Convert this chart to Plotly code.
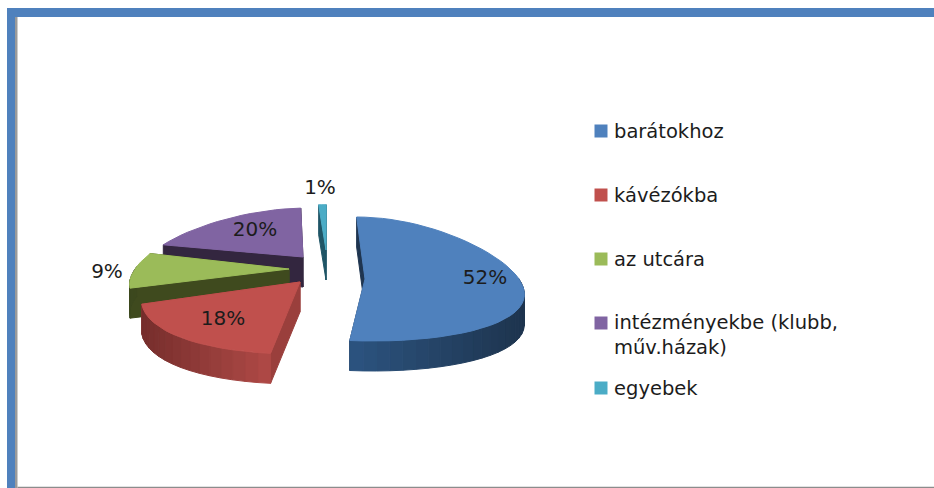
import math
import plotly.graph_objects as go

# ---- data ----
categories = ["barátokhoz", "kávézókba", "az utcára", "intézményekbe (klubb,<br>műv.házak)", "egyebek"]
values = [52, 18, 9, 20, 1]
value_labels = ["52%", "18%", "9%", "20%", "1%"]

# ---- styling / layout ----
top_colors = ["#4F81BD", "#C0504D", "#9BBB59", "#8064A2", "#4BACC6"]
rim_left = [(44, 84, 128), (176, 74, 71), (60, 72, 30), (48, 36, 62), (30, 90, 105)]
rim_right = [(30, 52, 78), (118, 46, 44), (60, 72, 30), (48, 36, 62), (30, 90, 105)]
inner_colors = ["#1F3550", "#9A3F3C", "#3F4A1E", "#33263F", "#1F5566"]
explode_dx = [38, -27, -38, -24, -1]
explode_dy = [10, 13, 0, -12, -19]
slice_scale = [1.0, 1.16, 1.0, 0.79, 0.73]
label_pos = [(485, 279), (223, 320), (107, 273), (255, 231), (320, 189)]
legend_key_x = 601
legend_y = [131, 195, 259, 323, 388]
legend_text_x = 612
text_color = "#1C1C1C"
FONT = "DejaVu Sans"

PIVOT_X, PIVOT_Y = 327, 269
RX, RY = 154, 62
DEPTH = 30
PERSP = 0.22
START_DEG = 0


def project(i, theta_deg):
    t = math.radians(theta_deg)
    ax = PIVOT_X + explode_dx[i]
    ay = PIVOT_Y + explode_dy[i]
    near = -math.cos(t)
    x = PIVOT_X + (ax - PIVOT_X + RX * math.sin(t)) * (1 + PERSP * near)
    y = ay + RY * slice_scale[i] * near
    return x, y


def poly(xs, ys, color):
    return go.Scatter(x=xs + xs[:1], y=ys + ys[:1], mode="lines", fill="toself", fillcolor=color,
                      line=dict(color=color, width=1), hoverinfo="skip", showlegend=False)


fig = go.Figure()

spans = []
acc = START_DEG
total = sum(values)
for v in values:
    spans.append((acc, acc + v / total * 360))
    acc += v / total * 360

for i in [4, 3, 2, 1, 0]:
    a0, a1 = spans[i]
    n = max(3, int((a1 - a0) / 4))
    angles = [a0 + (a1 - a0) * j / n for j in range(n + 1)]
    ax = PIVOT_X + explode_dx[i]
    ay = PIVOT_Y + explode_dy[i]
    c0, c1 = project(i, a0), project(i, a1)

    # inner cut faces
    fig.add_trace(poly([ax, c1[0], c1[0], ax], [ay, c1[1], c1[1] + DEPTH, ay + DEPTH], inner_colors[i]))
    fig.add_trace(poly([ax, c0[0], c0[0], ax], [ay, c0[1], c0[1] + DEPTH, ay + DEPTH], inner_colors[i]))

    # outer rim, shaded strip by strip along the screen x direction
    pts = [project(i, a) for a in angles]
    xmin = min(p[0] for p in pts)
    xmax = max(p[0] for p in pts)
    for j in range(n):
        (x0, y0), (x1, y1) = pts[j], pts[j + 1]
        if -math.cos(math.radians((angles[j] + angles[j + 1]) / 2)) < -0.02:
            continue
        f = ((x0 + x1) / 2 - xmin) / max(xmax - xmin, 1)
        if i == 1:
            f = 1 - f
        rgb = tuple(int(rim_left[i][k] + (rim_right[i][k] - rim_left[i][k]) * f) for k in range(3))
        fig.add_trace(poly([x0, x1, x1, x0], [y0, y1, y1 + DEPTH, y0 + DEPTH], "rgb(%d,%d,%d)" % rgb))

    # top face
    xs = [ax] + [p[0] for p in pts]
    ys = [ay] + [p[1] for p in pts]
    fig.add_trace(poly(xs, ys, top_colors[i]))

# data labels
fig.add_trace(go.Scatter(x=[p[0] for p in label_pos], y=[p[1] for p in label_pos], text=value_labels,
                         mode="text", textposition="middle center",
                         textfont=dict(family=FONT, size=20, color=text_color),
                         hoverinfo="skip", showlegend=False))

# legend
fig.add_trace(go.Scatter(x=[legend_key_x] * len(categories), y=legend_y, mode="markers",
                         marker=dict(symbol="square", size=13, color=top_colors),
                         hoverinfo="skip", showlegend=False))
for name, y in zip(categories, legend_y):
    yy = y + (12 if "<br>" in name else 0)
    fig.add_annotation(x=legend_text_x, y=yy, text=name, showarrow=False, xanchor="left", yanchor="middle",
                       align="left", font=dict(family=FONT, size=19.5, color=text_color))

# slide frame
fig.update_layout(
    width=934, height=488, margin=dict(l=0, r=0, t=0, b=0),
    paper_bgcolor="white", plot_bgcolor="white", showlegend=False,
    xaxis=dict(range=[0, 934], visible=False, fixedrange=True),
    yaxis=dict(range=[488, 0], visible=False, fixedrange=True),
    shapes=[
        dict(type="rect", layer="below", x0=7, x1=934, y0=8, y1=17, fillcolor="#4F81BD", line_width=0),
        dict(type="rect", layer="below", x0=7, x1=15, y0=8, y1=488, fillcolor="#4F81BD", line_width=0),
        dict(type="rect", layer="below", x0=15, x1=17.5, y0=17, y1=488, fillcolor="#9A9A9A", line_width=0),
        dict(type="rect", layer="below", x0=17.5, x1=934, y0=486.8, y1=488, fillcolor="#8C8C8C", line_width=0),
    ],
)

fig.write_html("out.html", config={"displayModeBar": False},
               post_script="document.body.style.margin='0';")
